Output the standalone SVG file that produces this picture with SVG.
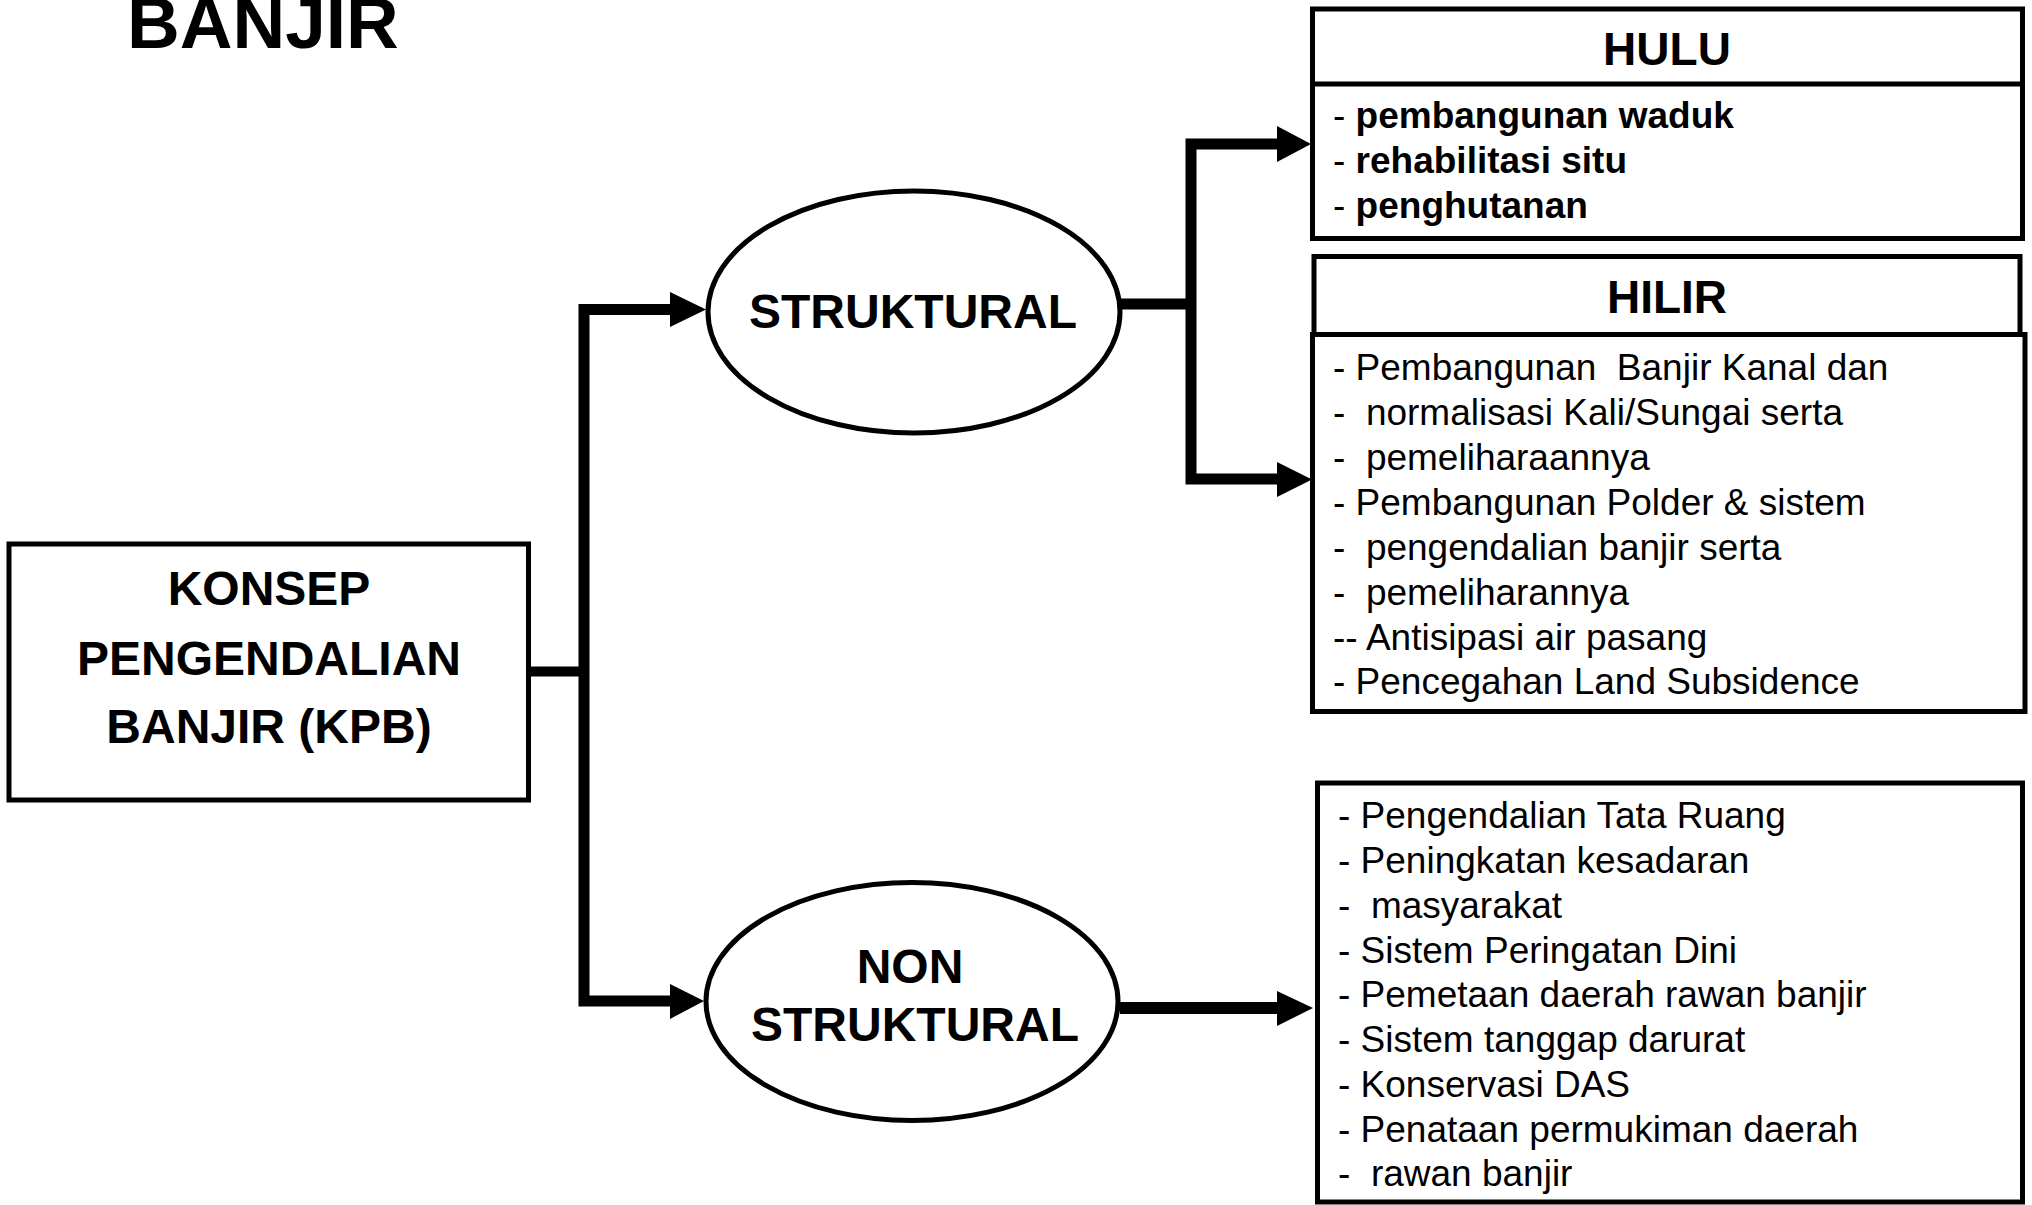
<svg xmlns="http://www.w3.org/2000/svg" width="2032" height="1205" viewBox="0 0 2032 1205">
<style>
  .box { fill: #ffffff; stroke: #000000; stroke-width: 5; }
  .ell { fill: #ffffff; stroke: #000000; stroke-width: 5; }
  .bold { font-family: "Liberation Sans", Arial, sans-serif; font-weight: bold; fill: #000000; }
  .reg { font-family: "Liberation Sans", Arial, sans-serif; font-weight: normal; fill: #000000; font-size: 37px; white-space: pre; }
  .big { font-size: 48px; text-anchor: middle; }
  .hdr { font-size: 46px; text-anchor: middle; }
  .item { font-size: 37px; white-space: pre; }
  .dash { font-weight: normal; }
  .line { fill: none; stroke: #000000; stroke-width: 11; stroke-linejoin: miter; stroke-linecap: butt; }
  .head { fill: #000000; stroke: none; }
</style>
<rect width="2032" height="1205" fill="#ffffff"/>

<g id="title">
  <text class="bold" x="127" y="48" font-size="73">BANJIR</text>
</g>

<g id="connectors">
  <path class="line" d="M523,671.5 H584" style="stroke-width:10"/>
  <path class="line" d="M672,309.5 H584 V1001 H672"/>
  <polygon class="head" points="670,292 706,309.5 670,327"/>
  <polygon class="head" points="670,984 704,1001 670,1019"/>
  <path class="line" d="M1120,304 H1191"/>
  <path class="line" d="M1279,144 H1191 V479 H1279"/>
  <polygon class="head" points="1277,126 1311,144 1277,162"/>
  <polygon class="head" points="1277,462 1312,479.5 1277,497"/>
  <path class="line" d="M1120,1008 H1279" style="stroke-width:12"/>
  <polygon class="head" points="1277,991 1313,1008 1277,1026"/>
</g>

<g id="kpb">
  <rect class="box" x="9" y="544" width="519.5" height="256"/>
  <text class="bold big" x="269" y="605">KONSEP</text>
  <text class="bold big" x="269" y="675">PENGENDALIAN</text>
  <text class="bold big" x="269" y="743">BANJIR (KPB)</text>
</g>

<g id="struktural">
  <ellipse class="ell" cx="914" cy="312" rx="206" ry="121"/>
  <text class="bold big" x="913" y="328">STRUKTURAL</text>
</g>

<g id="non-struktural">
  <ellipse class="ell" cx="912" cy="1001.5" rx="206" ry="119"/>
  <text class="bold big" x="910" y="983">NON</text>
  <text class="bold big" x="915" y="1041">STRUKTURAL</text>
</g>

<g id="hulu">
  <rect class="box" x="1312.5" y="9" width="710" height="229.5"/>
  <line x1="1312.5" y1="84" x2="2022.5" y2="84" stroke="#000" stroke-width="5"/>
  <text class="bold hdr" x="1667" y="65">HULU</text>
  <text class="bold item" x="1333" y="128" xml:space="preserve"><tspan class="dash">- </tspan>pembangunan waduk</text>
  <text class="bold item" x="1333" y="173" xml:space="preserve"><tspan class="dash">- </tspan>rehabilitasi situ</text>
  <text class="bold item" x="1333" y="218" xml:space="preserve"><tspan class="dash">- </tspan>penghutanan</text>
</g>

<g id="hilir">
  <rect class="box" x="1314" y="256.5" width="706" height="78"/>
  <text class="bold hdr" x="1667" y="313">HILIR</text>
  <rect class="box" x="1312.5" y="334.5" width="712.5" height="377"/>
  <text class="reg" x="1333" y="380" xml:space="preserve">- Pembangunan  Banjir Kanal dan</text>
  <text class="reg" x="1333" y="425" xml:space="preserve">-  normalisasi Kali/Sungai serta</text>
  <text class="reg" x="1333" y="470" xml:space="preserve">-  pemeliharaannya</text>
  <text class="reg" x="1333" y="515" xml:space="preserve">- Pembangunan Polder &amp; sistem</text>
  <text class="reg" x="1333" y="559.5" xml:space="preserve">-  pengendalian banjir serta</text>
  <text class="reg" x="1333" y="604.5" xml:space="preserve">-  pemeliharannya</text>
  <text class="reg" x="1333" y="649.5" xml:space="preserve">-- Antisipasi air pasang</text>
  <text class="reg" x="1333" y="694" xml:space="preserve">- Pencegahan Land Subsidence</text>
</g>

<g id="non-struktural-list">
  <rect class="box" x="1317.5" y="783" width="705" height="419"/>
  <text class="reg" x="1338" y="828" xml:space="preserve">- Pengendalian Tata Ruang</text>
  <text class="reg" x="1338" y="873" xml:space="preserve">- Peningkatan kesadaran</text>
  <text class="reg" x="1338" y="917.5" xml:space="preserve">-  masyarakat</text>
  <text class="reg" x="1338" y="962.5" xml:space="preserve">- Sistem Peringatan Dini</text>
  <text class="reg" x="1338" y="1007" xml:space="preserve">- Pemetaan daerah rawan banjir</text>
  <text class="reg" x="1338" y="1052" xml:space="preserve">- Sistem tanggap darurat</text>
  <text class="reg" x="1338" y="1097" xml:space="preserve">- Konservasi DAS</text>
  <text class="reg" x="1338" y="1141.5" xml:space="preserve">- Penataan permukiman daerah</text>
  <text class="reg" x="1338" y="1186" xml:space="preserve">-  rawan banjir</text>
</g>
</svg>
